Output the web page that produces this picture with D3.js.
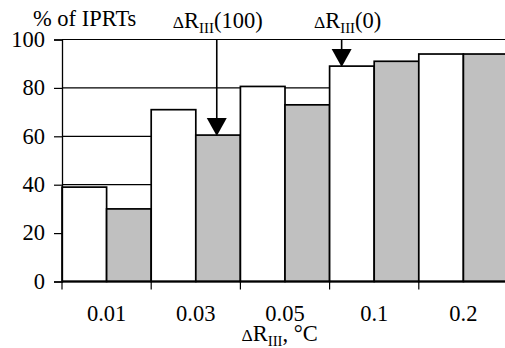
<!DOCTYPE html>
<html>
<head>
<meta charset="utf-8">
<script src="https://cdn.jsdelivr.net/npm/d3@7"></script>
<style>
  body { margin: 0; background: #fff; }
  svg { display: block; }
</style>
</head>
<body>
<div id="chart"></div>
<script>
const width = 505;
const height = 348;

// Dati
const categories = ["0.01", "0.03", "0.05", "0.1", "0.2"];
const seriesNames = ["white", "gray"];
const whiteValues = [39, 71, 80.6, 89, 94];
const grayValues = [30, 60.5, 73, 91, 94];
const yTicks = [0, 20, 40, 60, 80, 100];
const arrows = [
    { label: "(100)", cat: "0.03", series: "gray", pos: 0.47, value: 60.5 },
    { label: "(0)", cat: "0.1", series: "white", pos: 0.27, value: 89 }
];

const margin = { top: 39.5, left: 62, bottom: 66.5 };
const fontSize = 22.5;
const serif = "'Liberation Serif', 'Times New Roman', serif";

const svg = d3.select("#chart")
    .append("svg")
    .attr("width", width)
    .attr("height", height)
    .style("font-family", serif);

const x = d3.scaleBand()
    .domain(categories)
    .range([margin.left, margin.left + 89.2 * categories.length]);

const xs = d3.scaleBand()
    .domain(seriesNames)
    .range([0, x.bandwidth()]);

const y = d3.scaleLinear()
    .domain([0, 100])
    .range([height - margin.bottom, margin.top]);

// Griglia orizzontale
svg.append("g")
    .selectAll("line")
    .data(yTicks.filter(d => d > 0))
    .join("line")
    .attr("x1", margin.left)
    .attr("x2", width)
    .attr("y1", d => y(d))
    .attr("y2", d => y(d))
    .attr("stroke", "#000")
    .attr("stroke-width", 1.2);

// Barre
const bars = [];
categories.forEach((c, i) => {
    bars.push({ cat: c, series: "white", value: whiteValues[i] });
    bars.push({ cat: c, series: "gray", value: grayValues[i] });
});

svg.append("g")
    .selectAll("rect")
    .data(bars)
    .join("rect")
    .attr("x", d => x(d.cat) + xs(d.series))
    .attr("y", d => y(d.value))
    .attr("width", xs.bandwidth())
    .attr("height", d => y(0) - y(d.value))
    .attr("fill", d => d.series === "gray" ? "#c0c0c0" : "#fff")
    .attr("stroke", "#000")
    .attr("stroke-width", 1.7);

// Asse Y
const yAxis = svg.append("g")
    .attr("transform", `translate(${margin.left},0)`)
    .call(d3.axisLeft(y).tickValues(yTicks).tickSize(8).tickPadding(9));
yAxis.attr("font-family", null).attr("font-size", null);
yAxis.select(".domain").attr("stroke-width", 1.3);
yAxis.selectAll(".tick line").attr("stroke-width", 1.2);
yAxis.selectAll("text")
    .attr("dy", "0.3em")
    .style("font-family", serif)
    .style("font-size", fontSize + "px");

// Asse X
svg.append("line")
    .attr("x1", margin.left)
    .attr("x2", width)
    .attr("y1", y(0))
    .attr("y2", y(0))
    .attr("stroke", "#000")
    .attr("stroke-width", 2);

svg.append("g")
    .selectAll("line")
    .data(categories)
    .join("line")
    .attr("x1", d => x(d))
    .attr("x2", d => x(d))
    .attr("y1", y(0))
    .attr("y2", y(0) + 8)
    .attr("stroke", "#000")
    .attr("stroke-width", 1.2);

svg.append("g")
    .selectAll("text")
    .data(categories)
    .join("text")
    .attr("x", d => x(d) + x.bandwidth() / 2)
    .attr("y", y(0) + 39)
    .attr("text-anchor", "middle")
    .style("font-family", serif)
    .style("font-size", fontSize + "px")
    .text(d => d);

// Funzione per scrivere ΔR_III con pedice
function deltaR(sel, suffix) {
    sel.style("font-family", serif).style("font-size", fontSize + "px");
    sel.append("tspan").style("font-size", (fontSize * 0.78) + "px").text("Δ");
    sel.append("tspan").text("R");
    sel.append("tspan").style("font-size", (fontSize * 0.66) + "px").attr("dy", 5).text("III");
    sel.append("tspan").attr("dy", -5).text(suffix);
}

// Titolo asse X
svg.append("text")
    .attr("x", x("0.05") + 1)
    .attr("y", height - 7.5)
    .call(deltaR, ", °C");

// Titolo asse Y
svg.append("text")
    .attr("x", margin.left - 29)
    .attr("y", margin.top - 13.5)
    .style("font-family", serif)
    .style("font-size", fontSize + "px")
    .text("% of IPRTs");

// Frecce
const labelShift = { "(100)": 1, "(0)": 6 };
arrows.forEach(a => {
    const ax = x(a.cat) + xs(a.series) + xs.bandwidth() * a.pos;
    const tip = y(a.value) + 1;
    const headH = 18, headW = 20;
    svg.append("line")
        .attr("x1", ax).attr("x2", ax)
        .attr("y1", y(100)).attr("y2", tip - headH + 1)
        .attr("stroke", "#000")
        .attr("stroke-width", 1.6);
    svg.append("path")
        .attr("d", `M${ax - headW / 2},${tip - headH} L${ax + headW / 2},${tip - headH} L${ax},${tip} Z`)
        .attr("fill", "#000");
    svg.append("text")
        .attr("x", ax + labelShift[a.label])
        .attr("y", margin.top - 11.5)
        .attr("text-anchor", "middle")
        .call(deltaR, a.label);
});
</script>
</body>
</html>
